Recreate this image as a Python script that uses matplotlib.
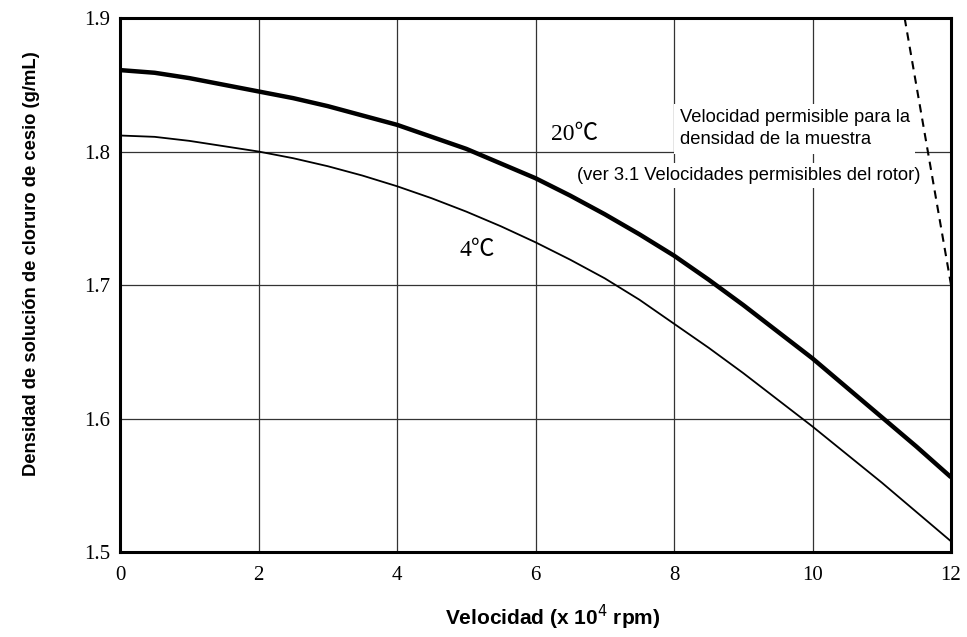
import numpy as np
import matplotlib.pyplot as plt

# speed (x 10^4 rpm)
speed = [0, 0.5, 1, 1.5, 2, 2.5, 3, 3.5, 4, 4.5, 5, 5.5, 6, 6.5, 7, 7.5, 8, 8.5,
         9, 9.5, 10, 10.5, 11, 11.5, 12]

# density of CsCl solution (g/mL)
dens_20c = [1.861, 1.859, 1.855, 1.850, 1.845, 1.840, 1.834, 1.827, 1.820, 1.811,
            1.802, 1.791, 1.780, 1.767, 1.753, 1.738, 1.722, 1.704, 1.685, 1.665,
            1.645, 1.623, 1.601, 1.579, 1.556]
dens_4c = [1.812, 1.811, 1.808, 1.804, 1.800, 1.795, 1.789, 1.782, 1.774, 1.765,
           1.755, 1.744, 1.732, 1.719, 1.705, 1.689, 1.671, 1.653, 1.634, 1.614,
           1.594, 1.573, 1.552, 1.530, 1.508]

# allowed speed limit line
limit_x = [11.33, 12.0]
limit_y = [1.9, 1.70]

xticks = [0, 2, 4, 6, 8, 10, 12]
yticks = [1.5, 1.6, 1.7, 1.8, 1.9]

serif = ['Liberation Serif', 'DejaVu Serif']
serif_c = ['Liberation Serif', 'Noto Sans CJK JP', 'DejaVu Serif']
sans = ['Liberation Sans', 'DejaVu Sans']

fig = plt.figure(figsize=(9.67, 6.37), dpi=100)
ax = fig.add_axes([0.1241, 0.1334, 0.8594, 0.8383])

ax.set_xlim(0, 12)
ax.set_ylim(1.5, 1.9)
ax.set_xticks(xticks)
ax.set_yticks(yticks)
ax.set_xticklabels([str(t) for t in xticks], family=serif, fontsize=15)
ax.set_yticklabels(["%.1f" % t for t in yticks], family=serif, fontsize=15)
ax.tick_params(length=0)
ax.tick_params(axis='x', pad=10)
ax.tick_params(axis='y', pad=7)
ax.grid(True, color='0.2', lw=0.9)
ax.set_axisbelow(True)
for s in ax.spines.values():
    s.set_linewidth(2.2)

ax.plot(speed, dens_20c, color='black', lw=3.2, zorder=3, solid_capstyle='butt')
ax.plot(speed, dens_4c, color='black', lw=1.3, zorder=3)
ax.plot(limit_x, limit_y, color='black', lw=1.5, ls=(0, (4, 3)), zorder=3, clip_on=False)

# curve labels
ax.text(6.56, 1.813, "20\u2103", family=serif_c, fontsize=17, va='center', ha='center', zorder=4)
ax.text(5.16, 1.726, "4\u2103", family=serif_c, fontsize=17, va='center', ha='center', zorder=4)

# note about allowed speed (white boxes hide the grid)
ax.text(8.08, 1.817, "Velocidad permisible para la\ndensidad de la muestra",
        family=sans, fontsize=13.2, va='center', ha='left', linespacing=1.4,
        bbox=dict(facecolor='white', edgecolor='none', pad=4), zorder=2)
ax.text(6.6, 1.782, "(ver 3.1 Velocidades permisibles del rotor)",
        family=sans, fontsize=13.2, va='center', ha='left',
        bbox=dict(facecolor='white', edgecolor='none', pad=3), zorder=2)

ax.set_xlabel("Velocidad (x 10$^4$ rpm)", family=sans, fontsize=15, fontweight='bold', va='center')
ax.xaxis.set_label_coords(0.521, -0.122)
ax.set_ylabel("Densidad de soluci\u00f3n de cloruro de cesio (g/mL)", family=sans, fontsize=13.2,
              fontweight='bold', va='center')
ax.yaxis.set_label_coords(-0.107, 0.541)

fig.savefig("out.png", dpi=100)
